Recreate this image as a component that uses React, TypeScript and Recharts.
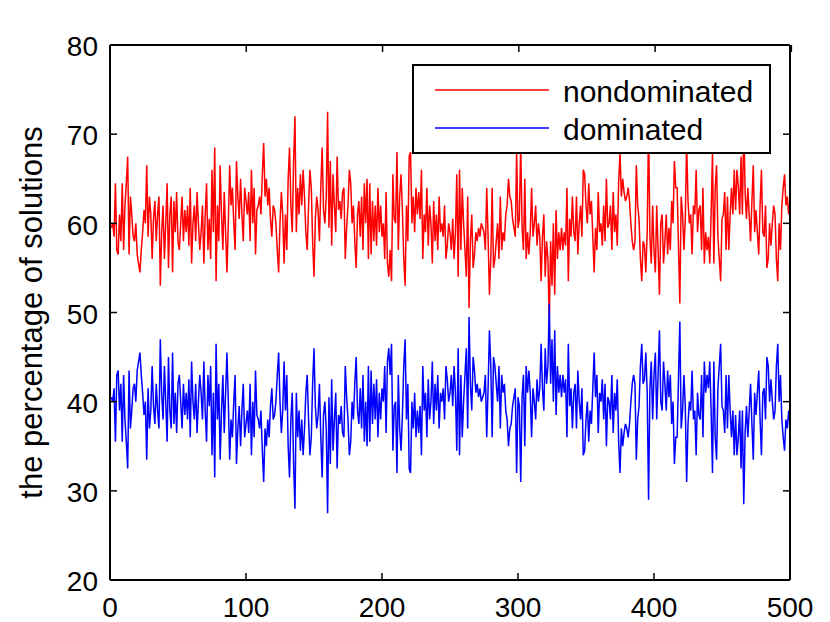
import { LineChart, Line, XAxis, YAxis, Legend } from "recharts";

// values, one per iteration (1..500)
const nondominated = [
  59.5, 60, 58.5, 64.5, 57, 56.5, 61, 58, 64.5, 57, 62, 64.5, 67.5, 56.5, 63, 61, 58.5, 58, 60, 56.5, 55.5, 54.5, 57, 59, 61.5,
  60, 66.5, 58.5, 63, 61, 56, 60.5, 62.5, 58, 61, 63, 53, 59, 62, 56, 60, 64.5, 55, 61, 63, 54.5, 62.5, 59, 63.5, 58,
  57, 60, 63, 58, 61.5, 59, 62, 57.5, 64, 55.5, 60, 62, 58, 63.5, 60, 57, 59, 62, 55.5, 61, 64.5, 57, 60.5, 56, 66,
  59, 68.5, 53.5, 62, 58, 66.5, 61, 57, 63.5, 59, 54.5, 60, 66.5, 62, 64, 60, 57, 67, 63, 60.5, 65, 61, 58, 64, 62.5,
  61, 63.5, 58, 66, 60, 64, 56.5, 61.5, 62, 63, 61, 65.5, 69, 63, 65, 62, 64, 60.5, 58.5, 62, 61.5, 60, 57, 54.5, 60,
  63.5, 61, 55.5, 61, 57, 65, 68.5, 62, 59, 67, 72, 59, 64, 61, 65.5, 62, 66, 63, 59, 57, 62, 66, 64, 58, 54,
  60.5, 63, 61.5, 58, 64, 68.5, 61.5, 60, 63, 72.5, 59.5, 67, 57.5, 65.5, 62, 59, 67.5, 61.5, 62.5, 60.5, 63.5, 64, 56, 59.5, 62,
  66, 64.5, 60, 62, 58, 55, 61, 62.5, 58.5, 63, 57, 64.5, 60, 65, 56, 64.5, 56.5, 62.5, 58, 62, 57.5, 64, 59, 62, 58.5,
  60, 56, 63.5, 55.5, 54, 57, 53.5, 65.5, 60.5, 60, 68, 57, 63, 65.5, 61.5, 56, 53, 62, 58, 67.5, 68, 60, 63, 59, 64,
  61, 63.5, 60.5, 66, 56, 61, 59, 64, 57.5, 62, 60, 55.5, 62.5, 58, 61, 57, 63, 59, 60, 58.5, 62, 56, 57.5, 60, 59,
  57, 60.5, 56, 59, 65.5, 54, 66, 57, 64, 60, 57, 54, 63, 50.5, 58, 61, 55, 56.5, 59, 58, 59.5, 58.5, 60, 59.5, 59,
  57, 64, 58.5, 52, 56, 64, 55, 56, 58, 60, 56, 63, 57, 59, 58, 61, 62, 65, 63, 62.5, 60.5, 59.5, 58.5, 68, 59.5,
  60.5, 69, 59.5, 57, 65, 56, 59, 56.5, 59, 64, 58.5, 60, 62, 57.5, 60, 58.5, 53.5, 58.5, 61, 54, 58, 56, 49, 58, 53,
  60, 52, 61.5, 56, 59, 57, 59.5, 57, 59, 57.5, 64, 53.5, 60.5, 58.5, 63, 59, 58, 63, 56.5, 60, 62, 58.5, 66, 65.5, 62,
  60, 64.5, 61, 62.5, 58.5, 54.5, 59.5, 57, 63.5, 59, 60, 57.5, 62, 58, 65, 59.5, 60, 62, 57, 63.5, 59, 61, 57.5, 64.5, 68,
  63, 65, 63.5, 62.5, 63, 64, 62.5, 60, 58, 57, 58, 66.5, 62, 60.5, 56, 53.5, 58, 57.5, 54.5, 59, 71, 58.5, 55.5, 62, 57,
  54.5, 62, 57, 52, 60, 61, 55.5, 58, 61, 56.5, 59.5, 57, 62.5, 60, 67, 64, 64, 57.5, 51, 63, 61, 57, 60.5, 69, 62.5,
  60, 61, 56.5, 62, 61, 66, 59, 61.5, 62, 57, 64, 55.5, 59, 57, 58.5, 55.5, 61, 68, 55.5, 64, 66.5, 58.5, 56, 53.5, 60.5,
  61, 63.5, 57, 63, 57, 61, 64, 61, 66, 61.5, 66, 64, 61, 67.5, 61, 71.5, 63.5, 60.5, 64, 61, 58, 62.5, 66.5, 59, 61.5,
  59, 56.5, 62, 66, 59, 58.5, 62, 55, 56, 60, 57.5, 60, 62, 61, 56, 53.5, 60, 57, 62, 64, 65.5, 62, 63, 61, 62.5,
];

const dominated = [
  40.5, 40, 41.5, 35.5, 43, 43.5, 39, 42, 35.5, 43, 38, 35.5, 32.5, 43.5, 37, 39, 41.5, 42, 40, 43.5, 44.5, 45.5, 43, 41, 38.5,
  40, 33.5, 41.5, 37, 39, 44, 39.5, 37.5, 42, 39, 37, 47, 41, 38, 44, 40, 35.5, 45, 39, 37, 45.5, 37.5, 41, 36.5, 42,
  43, 40, 37, 42, 38.5, 41, 38, 42.5, 36, 44.5, 40, 38, 42, 36.5, 40, 43, 41, 38, 44.5, 39, 35.5, 43, 39.5, 44, 34,
  41, 31.5, 46.5, 38, 42, 33.5, 39, 43, 36.5, 41, 45.5, 40, 33.5, 38, 36, 40, 43, 33, 37, 39.5, 35, 39, 42, 36, 37.5,
  39, 36.5, 42, 34, 40, 36, 43.5, 38.5, 38, 37, 39, 34.5, 31, 37, 35, 38, 36, 39.5, 41.5, 38, 38.5, 40, 43, 45.5, 40,
  36.5, 39, 44.5, 39, 43, 35, 31.5, 38, 41, 33, 28, 41, 36, 39, 34.5, 38, 34, 37, 41, 43, 38, 34, 36, 42, 46,
  39.5, 37, 38.5, 42, 36, 31.5, 38.5, 40, 37, 27.5, 40.5, 33, 42.5, 34.5, 38, 41, 32.5, 38.5, 37.5, 39.5, 36.5, 36, 44, 40.5, 38,
  34, 35.5, 40, 38, 42, 45, 39, 37.5, 41.5, 37, 43, 35.5, 40, 35, 44, 35.5, 43.5, 37.5, 42, 38, 42.5, 36, 41, 38, 41.5,
  40, 44, 36.5, 44.5, 46, 43, 46.5, 34.5, 39.5, 40, 32, 43, 37, 34.5, 38.5, 44, 47, 38, 42, 32.5, 32, 40, 37, 41, 36,
  39, 36.5, 39.5, 34, 44, 39, 41, 36, 42.5, 38, 40, 44.5, 37.5, 42, 39, 43, 37, 41, 40, 41.5, 38, 44, 42.5, 40, 41,
  43, 39.5, 44, 41, 34.5, 46, 34, 43, 36, 40, 43, 46, 37, 49.5, 42, 39, 45, 43.5, 41, 42, 40.5, 41.5, 40, 40.5, 41,
  43, 36, 41.5, 48, 44, 36, 45, 44, 42, 40, 44, 37, 43, 41, 42, 39, 38, 35, 37, 37.5, 39.5, 40.5, 41.5, 32, 40.5,
  39.5, 31, 40.5, 43, 35, 44, 41, 43.5, 41, 36, 41.5, 40, 38, 42.5, 40, 41.5, 46.5, 41.5, 39, 46, 42, 44, 51, 42, 47,
  40, 48, 38.5, 44, 41, 43, 40.5, 43, 41, 42.5, 36, 46.5, 39.5, 41.5, 37, 41, 42, 37, 43.5, 40, 38, 41.5, 34, 34.5, 38,
  40, 35.5, 39, 37.5, 41.5, 45.5, 40.5, 43, 36.5, 41, 40, 42.5, 38, 42, 35, 40.5, 40, 38, 43, 36.5, 41, 39, 42.5, 35.5, 32,
  37, 35, 36.5, 37.5, 37, 36, 37.5, 40, 42, 43, 42, 33.5, 38, 39.5, 44, 46.5, 42, 42.5, 45.5, 41, 29, 41.5, 44.5, 38, 43,
  45.5, 38, 43, 48, 40, 39, 44.5, 42, 39, 43.5, 40.5, 43, 37.5, 40, 33, 36, 36, 42.5, 49, 37, 39, 43, 39.5, 31, 37.5,
  40, 39, 43.5, 38, 39, 34, 41, 38.5, 38, 43, 36, 44.5, 41, 43, 41.5, 44.5, 39, 32, 44.5, 36, 33.5, 41.5, 44, 46.5, 39.5,
  39, 36.5, 43, 37, 43, 39, 36, 39, 34, 38.5, 34, 36, 39, 32.5, 39, 28.5, 36.5, 39.5, 36, 39, 42, 37.5, 33.5, 41, 38.5,
  41, 43.5, 38, 34, 41, 41.5, 38, 45, 44, 40, 42.5, 40, 38, 39, 44, 46.5, 40, 43, 38, 36, 34.5, 38, 37, 39, 37.5,
];

const seriesOrder = ["nondominated", "dominated"];
const xTicks = [0, 100, 200, 300, 400, 500];
const yTicks = [20, 30, 40, 50, 60, 70, 80];

const data = nondominated.map((v, i) => ({
  iter: i + 1,
  nondominated: v,
  dominated: dominated[i],
}));

const FONT = "'Liberation Sans', Arial, Helvetica, sans-serif";
const TICK_LEN = 7;
const LEFT_GAP = 12;
const BOTTOM_GAP = 17;

// matlab style: ticks point into the plot box
const LeftTick = ({ x, y, payload }: any) => (
  <g>
    <line x1={x + LEFT_GAP} x2={x + LEFT_GAP + TICK_LEN} y1={y} y2={y} stroke="#000" strokeWidth={1.5} />
    <text x={x} y={y} dy="0.4em" textAnchor="end" fontSize={28} fontFamily={FONT} fill="#000">
      {payload.value}
    </text>
  </g>
);

const BottomTick = ({ x, y, payload }: any) => (
  <g>
    <line x1={x} x2={x} y1={y - BOTTOM_GAP} y2={y - BOTTOM_GAP - TICK_LEN} stroke="#000" strokeWidth={1.5} />
    <text x={x} y={y} dy="0.71em" textAnchor="middle" fontSize={28} fontFamily={FONT} fill="#000">
      {payload.value}
    </text>
  </g>
);

const RightTick = ({ x, y }: any) => (
  <line x1={x} x2={x - TICK_LEN} y1={y} y2={y} stroke="#000" strokeWidth={1.5} />
);

const TopTick = ({ x, y }: any) => (
  <line x1={x} x2={x} y1={y} y2={y + TICK_LEN} stroke="#000" strokeWidth={1.5} />
);

const YLabel = ({ viewBox }: any) => (
  <text
    transform={`translate(${viewBox.x + 42}, ${viewBox.y + viewBox.height / 2}) rotate(-90)`}
    textAnchor="middle"
    fontSize={31}
    fontFamily={FONT}
    fill="#000"
  >
    the percentage of solutions
  </text>
);

const LegendBox = ({ payload }: any) => {
  const items = [...(payload || [])].sort(
    (a: any, b: any) => seriesOrder.indexOf(a.value) - seriesOrder.indexOf(b.value)
  );
  return (
    <svg width={359} height={90} style={{ display: "block" }}>
      <rect x={1} y={1} width={357} height={88} fill="#fff" stroke="#000" strokeWidth={2} />
      {items.map((entry: any, i: number) => (
        <g key={entry.value}>
          <line x1={23} x2={137} y1={26 + i * 38} y2={26 + i * 38} stroke={entry.color} strokeWidth={1.5} />
          <text x={151} y={38 + i * 38} fontSize={30} fontFamily={FONT} fill="#000">
            {entry.value}
          </text>
        </g>
      ))}
    </svg>
  );
};

const App = () => {
  return (
    <div style={{ position: "absolute", left: 0, top: 0, width: 830, height: 622, background: "#fff" }}>
      <LineChart width={830} height={622} data={data} margin={{ top: 0, right: 0, bottom: 0, left: 0 }}>
        <XAxis
          dataKey="iter"
          type="number"
          domain={[0, 500]}
          ticks={xTicks}
          allowDataOverflow
          height={42}
          tickSize={0}
          tickMargin={BOTTOM_GAP}
          tickLine={false}
          tick={<BottomTick />}
          stroke="#000"
          strokeWidth={2}
        />
        <XAxis
          xAxisId="top"
          orientation="top"
          type="number"
          domain={[0, 500]}
          ticks={xTicks}
          allowDataOverflow
          height={45}
          tickSize={0}
          tickMargin={0}
          tickLine={false}
          tick={<TopTick />}
          stroke="#000"
          strokeWidth={2}
        />
        <YAxis
          type="number"
          domain={[20, 80]}
          ticks={yTicks}
          allowDataOverflow
          width={110}
          tickSize={0}
          tickMargin={LEFT_GAP}
          tickLine={false}
          tick={<LeftTick />}
          stroke="#000"
          strokeWidth={2}
          label={(props: any) => <YLabel {...props} />}
        />
        <YAxis
          yAxisId="right"
          orientation="right"
          type="number"
          domain={[20, 80]}
          ticks={yTicks}
          allowDataOverflow
          width={40}
          tickSize={0}
          tickMargin={0}
          tickLine={false}
          tick={<RightTick />}
          stroke="#000"
          strokeWidth={2}
        />
        <Legend
          layout="vertical"
          align="center"
          verticalAlign="middle"
          width={359}
          height={90}
          wrapperStyle={{ left: 412, top: 64, width: 359, height: 90 }}
          content={(props: any) => <LegendBox {...props} />}
        />
        <Line
          dataKey="nondominated"
          name="nondominated"
          stroke="#ff0000"
          strokeWidth={1.5}
          dot={false}
          isAnimationActive={false}
        />
        <Line
          dataKey="dominated"
          name="dominated"
          stroke="#0000ff"
          strokeWidth={1.5}
          dot={false}
          isAnimationActive={false}
        />
      </LineChart>
    </div>
  );
};

export default App;
